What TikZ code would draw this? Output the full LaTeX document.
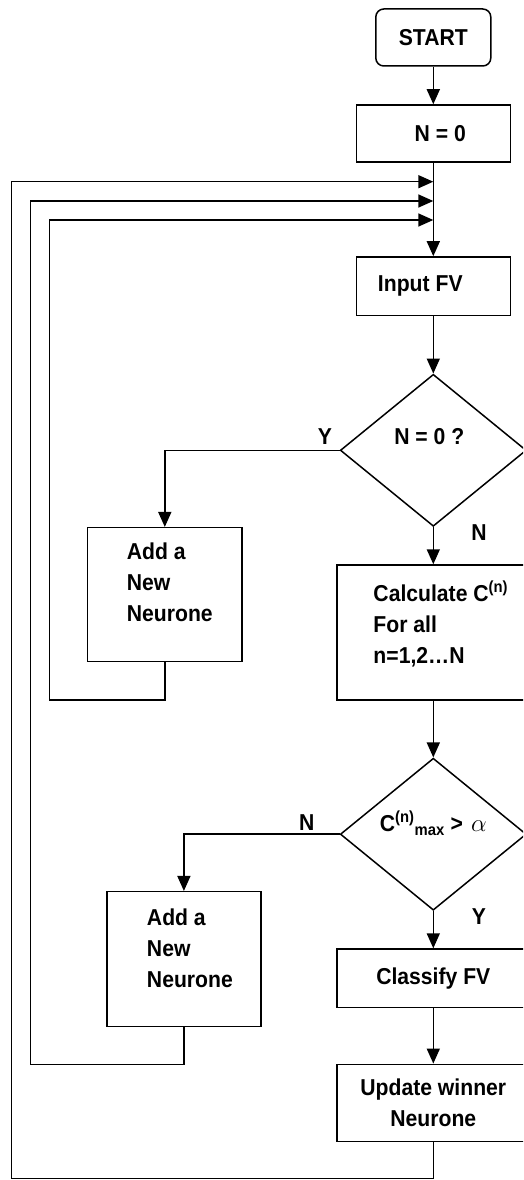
\documentclass[tikz,border=0pt]{standalone}
\usepackage{fontspec}
\setmainfont{Liberation Sans}[FakeStretch=0.92]
\usetikzlibrary{shapes.geometric,arrows.meta}
\begin{document}
\begin{tikzpicture}[x=1pt,y=-1pt,
  txt/.style={font=\fontsize{23}{31}\selectfont\bfseries, inner sep=0pt},
  box/.style={draw, line width=1.5pt, rectangle, inner sep=0pt, txt},
  dia/.style={draw, line width=1.5pt, diamond, inner sep=0pt, minimum width=186pt, minimum height=152pt},
  inner/.style={txt, align=left},
  flow/.style={line width=1.5pt, -{Triangle[length=15pt,width=13pt]}},
  plain/.style={line width=1.5pt}
]
\fill[white] (0,0) rectangle (523,1180);
\useasboundingbox (0,0) rectangle (523,1180);
\clip (0,0) rectangle (523,1180);

% main column
\node[box, rounded corners=8pt, minimum width=115pt, minimum height=57pt] (start) at (433.3,37.5) {START};
\node[box, minimum width=154pt, minimum height=57pt,
      label={[txt, xshift=7pt]center:N = 0}] (n0) at (433.3,133.5) {};
\node[box, minimum width=154pt, minimum height=58.7pt,
      label={[inner, xshift=-13pt]center:Input FV}] (input) at (433.3,286.3) {};
\node[dia, label={[txt, yshift=13.6pt, xshift=-4pt]center:N = 0 ?}] (d1) at (433.3,450.3) {};
\node[box, minimum width=193pt, minimum height=135pt,
      label={[inner, xshift=7.5pt, yshift=9pt]center:Calculate C\textsuperscript{(n)}\\For all\\n=1,2…N}] (calc) at (433.3,632.5) {};
\node[dia, label={[txt, yshift=11pt]center:C\textsuperscript{(n)}\textsubscript{max} >\hspace{8pt}{\fontsize{36}{36}\selectfont$\alpha$}}] (d2) at (433.3,834.2) {};
\node[box, minimum width=193pt, minimum height=58.3pt] (classify) at (433.3,978.2) {Classify FV};
\node[box, minimum width=193pt, minimum height=77.4pt, align=center] (update) at (433.3,1103) {Update winner\\Neurone};

% side boxes
\node[box, minimum width=154.3pt, minimum height=134pt,
      label={[inner, xshift=5pt, yshift=12pt]center:Add a\\New\\Neurone}] (add1) at (164.8,594.7) {};
\node[box, minimum width=154pt, minimum height=135pt,
      label={[inner, xshift=6pt, yshift=11pt]center:Add a\\New\\Neurone}] (add2) at (183.9,959.2) {};

% branch labels
\node[txt] (y1) at (325,436.7) {Y};
\node[txt] (n1) at (479,533) {N};
\node[txt] (n2) at (306.7,822.7) {N};
\node[txt] (y2) at (479,916.7) {Y};

% junctions and loop corners
\coordinate (jC) at (433.3,181.7);
\coordinate (jB) at (433.3,201);
\coordinate (jA) at (433.3,220);
\coordinate (lA) at (49.7,700);
\coordinate (lB) at (30.3,1064.3);
\coordinate (lC) at (11.7,1178.3);

% connectors
\draw[flow] (start) -- (n0);
\draw[flow] (n0) -- (input);
\draw[flow] (input) -- (d1);
\draw[flow] (d1.west) -| (add1.north);
\draw[flow] (d1.south) -- (calc.north);
\draw[flow] (calc) -- (d2);
\draw[flow] (d2.west) -| (add2.north);
\draw[flow] (d2.south) -- (classify.north);
\draw[flow] (classify) -- (update);

% feedback loops
\draw[flow] (add1.south) |- (lA) -- (lA |- jA) -- (jA);
\draw[flow] (add2.south) |- (lB) -- (lB |- jB) -- (jB);
\draw[flow] (update.south) |- (lC) -- (lC |- jC) -- (jC);
\end{tikzpicture}
\end{document}
